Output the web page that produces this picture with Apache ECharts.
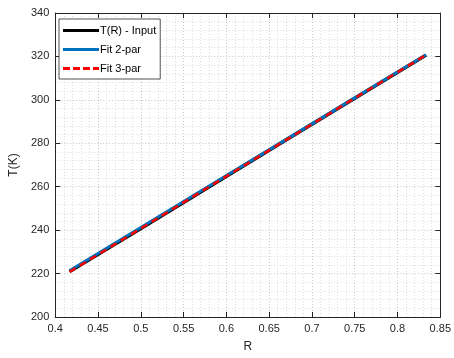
<!DOCTYPE html>
<html><head><meta charset="utf-8">
<script src="https://cdn.jsdelivr.net/npm/echarts@6/dist/echarts.min.js"></script>
<style>html,body{margin:0;padding:0;background:#fff}#c{width:454px;height:358px}</style>
</head><body><div id="c"></div>
<script>
var R = [0.4167, 0.5, 0.5833, 0.6667, 0.75, 0.8333];
var T_input = [220.9, 240.8, 260.8, 280.8, 300.7, 320.6];
var T_fit2 = [221.3, 241.2, 261.1, 281.0, 300.9, 320.8];
var T_fit3 = [220.8, 240.8, 260.8, 280.8, 300.8, 320.7];
var seriesNames = ['T(R) - Input', 'Fit 2-par', 'Fit 3-par'];
var xTicks = [0.4, 0.45, 0.5, 0.55, 0.6, 0.65, 0.7, 0.75, 0.8, 0.85];
var yTicks = [200, 220, 240, 260, 280, 300, 320, 340];

function pairs(xs, ys){ return xs.map(function(x,i){return [x, ys[i]];}); }
var font = 'Liberation Sans, Arial, sans-serif';
var axColor = '#262626';
var gridLine = {show:true, lineStyle:{color:'#c8c8c8', type:[1,2], width:1}};
var minorLine = {show:true, lineStyle:{color:'#dcdcdc', type:[1,2], width:1}};
var solidIcon = 'path://M0,0L36,0L36,3L0,3Z';
var dashIcon = 'path://M0,0L7,0L7,3L0,3ZM10,0L17,0L17,3L10,3ZM20,0L27,0L27,3L20,3ZM30,0L36,0L36,3L30,3Z';

var chart = echarts.init(document.getElementById('c'), null, {renderer:'canvas'});
chart.setOption({
  animation:false,
  backgroundColor:'#fff',
  grid:{left:54, right:13, top:13, bottom:40, containLabel:false},
  legend:{
    left:59, top:19, orient:'vertical', itemWidth:36, itemHeight:3, itemGap:8,
    backgroundColor:'#fff', borderColor:'#262626', borderWidth:0.8, borderRadius:0,
    padding:[6,4,5,4],
    textStyle:{fontFamily:font, fontSize:11, color:'#000', padding:[0,0,0,-4]},
    data:[
      {name:seriesNames[0], icon:solidIcon, itemStyle:{color:'#000'}},
      {name:seriesNames[1], icon:solidIcon, itemStyle:{color:'#0072BD'}},
      {name:seriesNames[2], icon:dashIcon, itemStyle:{color:'#FF0000'}}
    ]
  },
  xAxis:[{
    type:'value', min:xTicks[0], max:xTicks[xTicks.length-1], interval:0.05,
    name:'R', nameLocation:'middle', nameGap:24,
    nameTextStyle:{fontFamily:font, fontSize:12, color:axColor},
    axisLine:{show:true, lineStyle:{color:axColor, width:1}},
    axisTick:{show:true, inside:true, length:5, lineStyle:{color:axColor}},
    axisLabel:{fontFamily:font, fontSize:11, color:axColor, margin:6,
      formatter:function(v){return String(+v.toFixed(2));}},
    splitLine:gridLine,
    minorTick:{show:false, splitNumber:5},
    minorSplitLine:minorLine
  },{
    type:'value', position:'top', min:xTicks[0], max:xTicks[xTicks.length-1], interval:0.05,
    axisLine:{show:true, lineStyle:{color:axColor, width:1}},
    axisTick:{show:true, inside:true, length:5, lineStyle:{color:axColor}},
    axisLabel:{show:false}, splitLine:{show:false}
  }],
  yAxis:[{
    type:'value', min:yTicks[0], max:yTicks[yTicks.length-1], interval:20,
    name:'T(K)', nameLocation:'middle', nameGap:34, nameRotate:90,
    nameTextStyle:{fontFamily:font, fontSize:12, color:axColor},
    axisLine:{show:true, lineStyle:{color:axColor, width:1}},
    axisTick:{show:true, inside:true, length:5, lineStyle:{color:axColor}},
    axisLabel:{fontFamily:font, fontSize:11, color:axColor, margin:6},
    splitLine:gridLine,
    minorTick:{show:false, splitNumber:5},
    minorSplitLine:minorLine
  },{
    type:'value', position:'right', min:yTicks[0], max:yTicks[yTicks.length-1], interval:20,
    axisLine:{show:true, lineStyle:{color:axColor, width:1}},
    axisTick:{show:true, inside:true, length:5, lineStyle:{color:axColor}},
    axisLabel:{show:false}, splitLine:{show:false}
  }],
  series:[
    {name:seriesNames[0], type:'line', data:pairs(R, T_input), showSymbol:false, symbol:'none',
     itemStyle:{color:'#000'}, lineStyle:{color:'#000', width:3.5}},
    {name:seriesNames[1], type:'line', data:pairs(R, T_fit2), showSymbol:false, symbol:'none',
     itemStyle:{color:'#0072BD'}, lineStyle:{color:'#0072BD', width:3}},
    {name:seriesNames[2], type:'line', data:pairs(R, T_fit3), showSymbol:false, symbol:'none',
     itemStyle:{color:'#FF0000'}, lineStyle:{color:'#FF0000', width:2.5, type:[7,5]}}
  ]
});
</script></body></html>
